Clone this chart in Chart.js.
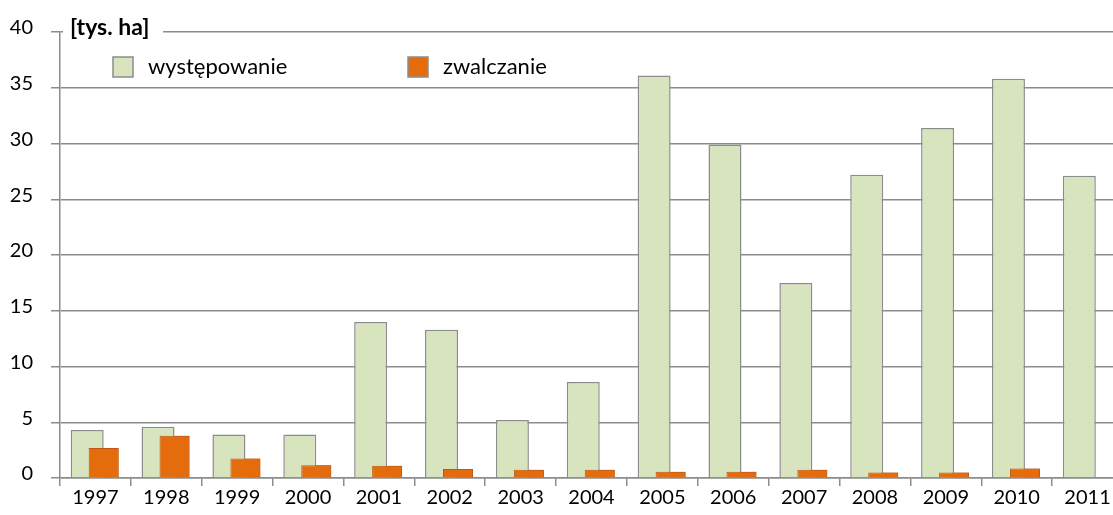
<!DOCTYPE html>
<html lang="pl">
<head>
<meta charset="utf-8">
<script src="https://cdn.jsdelivr.net/npm/chart.js@4.4.0/dist/chart.umd.min.js"></script>
<style>
  html, body { margin: 0; padding: 0; overflow: hidden; background: #fff; }
  #wrap { position: absolute; left: 0; top: 0; width: 1123px; height: 515px; }
</style>
</head>
<body>
<div id="wrap"><canvas id="myChart"></canvas></div>
<script>
const lata = ['1997', '1998', '1999', '2000', '2001', '2002', '2003', '2004', '2005', '2006', '2007', '2008', '2009', '2010', '2011'];
const wystepowanie = [4.3, 4.6, 3.9, 3.9, 14.0, 13.3, 5.2, 8.6, 36.1, 29.9, 17.5, 27.2, 31.4, 35.8, 27.1];
const zwalczanie = [2.7, 3.8, 1.75, 1.15, 1.1, 0.8, 0.75, 0.75, 0.55, 0.55, 0.75, 0.5, 0.5, 0.85, 0.1];
const yTicks = [0, 5, 10, 15, 20, 25, 30, 35, 40];
const jednostka = '[tys. ha]';

const kolorSiatki = '#8c8c8c';
const czcionka = 'Lato, "Open Sans", sans-serif';

// legenda i opis jednostki rysowane wewnatrz obszaru wykresu
const opisy = {
  id: 'opisy',
  afterDatasetsDraw(chart) {
    // slupki "zwalczanie" maja lezec na wierzchu
    const ctx = chart.ctx;
    const area = chart.chartArea;
    ctx.save();
    ctx.beginPath();
    ctx.rect(area.left, area.top, area.right - area.left, area.bottom - area.top);
    ctx.clip();
    chart.getDatasetMeta(1).data.forEach(el => el.draw(ctx));
    ctx.restore();
  },
  afterDraw(chart) {
    const ctx = chart.ctx;
    ctx.save();

    ctx.fillStyle = '#fff';
    ctx.fillRect(63, 18, 100, 26);
    ctx.fillStyle = '#000';
    ctx.font = 'bold 23px ' + czcionka;
    ctx.textBaseline = 'middle';
    ctx.fillText(jednostka, 70, 28);

    const pozycjeX = [113, 408];
    chart.data.datasets.forEach((ds, i) => {
      const x = pozycjeX[i];
      const y = 57;
      ctx.fillStyle = ds.backgroundColor;
      ctx.fillRect(x, y, 20, 20);
      ctx.strokeStyle = kolorSiatki;
      ctx.lineWidth = 1.5;
      ctx.strokeRect(x, y, 20, 20);
      ctx.fillStyle = '#000';
      ctx.font = '22px ' + czcionka;
      ctx.fillText(ds.label, x + 35, y + 10);
    });
    ctx.restore();
  }
};

const config = {
  type: 'bar',
  data: {
    labels: lata,
    datasets: [
      {
        label: 'występowanie',
        data: wystepowanie,
        backgroundColor: '#d7e4bd',
        borderColor: '#8c8c8c',
        borderWidth: 1.5,
        categoryPercentage: 0.4655,
        barPercentage: 2.0
      },
      {
        label: 'zwalczanie',
        data: zwalczanie,
        backgroundColor: '#e56c0c',
        borderColor: '#bf5814',
        borderWidth: 1,
        categoryPercentage: 0.4655,
        barPercentage: 1.82
      }
    ]
  },
  options: {
    responsive: true,
    maintainAspectRatio: false,
    animation: false,
    layout: { padding: { top: 32, left: 0, right: 0, bottom: 0 } },
    plugins: {
      legend: { display: false },
      tooltip: { enabled: false }
    },
    scales: {
      x: {
        offset: true,
        grid: {
          offset: true,
          drawOnChartArea: false,
          drawTicks: true,
          tickLength: 8,
          color: kolorSiatki,
          lineWidth: 1.5
        },
        border: { display: true, color: kolorSiatki, width: 1.5 },
        ticks: {
          color: '#000',
          font: { family: czcionka, size: 20 },
          padding: 0,
          maxRotation: 0,
          autoSkip: false
        },
        afterFit: axis => { axis.height = 37; }
      },
      y: {
        min: 0,
        max: 40,
        afterBuildTicks: axis => { axis.ticks = yTicks.map(v => ({ value: v })); },
        grid: {
          color: kolorSiatki,
          lineWidth: 1.5,
          drawTicks: true,
          tickLength: 9
        },
        border: { display: true, color: kolorSiatki, width: 1.5 },
        ticks: {
          color: '#000',
          font: { family: czcionka, size: 20 },
          padding: 18,
          labelOffset: -4
        },
        afterFit: axis => { axis.width = 60; }
      }
    }
  },
  plugins: [opisy]
};

const myChart = document.getElementById('myChart');
new Chart(myChart, config);
</script>
</body>
</html>
